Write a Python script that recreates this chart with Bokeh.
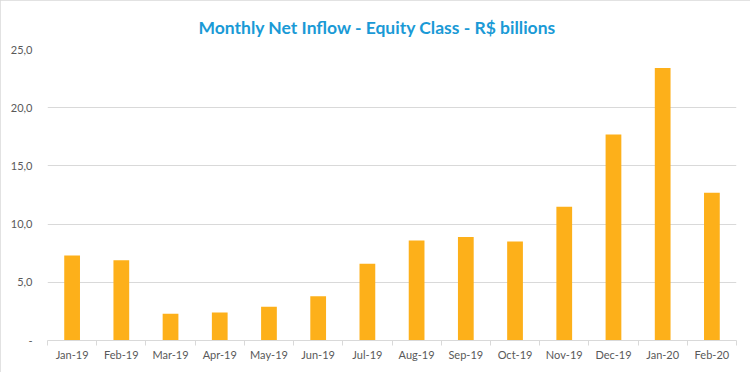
from bokeh.plotting import figure
from bokeh.models import ColumnDataSource, FixedTicker, Range1d
from bokeh.embed import file_html
from bokeh.resources import INLINE

months = ["Jan-19", "Feb-19", "Mar-19", "Apr-19", "May-19", "Jun-19", "Jul-19",
          "Aug-19", "Sep-19", "Oct-19", "Nov-19", "Dec-19", "Jan-20", "Feb-20"]
inflow = [7.3, 6.9, 2.3, 2.4, 2.9, 3.8, 6.6, 8.6, 8.9, 8.5, 11.5, 17.7, 23.4, 12.7]
y_ticks = [0, 5, 10, 15, 20, 25]
y_tick_labels = ["-", "5,0", "10,0", "15,0", "20,0", "25,0"]
title_text = "Monthly Net Inflow  - Equity Class - R$ billions"

n = len(months)
centers = [i + 0.5 for i in range(n)]
src = ColumnDataSource(dict(x=centers, top=inflow, m=months))

p = figure(width=750, height=372, output_backend="svg", toolbar_location=None,
           x_range=Range1d(0, n), y_range=Range1d(0, y_ticks[-1]),
           min_border_left=47, min_border_right=14, min_border_top=49, min_border_bottom=32)

p.title.text = title_text
p.title.align = "left"
p.title.offset = 151
p.title.text_font = "Lato"
p.title.text_font_size = "17.5px"
p.title.text_font_style = "bold"
p.title.text_color = "#1A9AD6"
p.title.standoff = 23

p.styles = {"outline": "1px solid #D9D9D9", "outline-offset": "-1px"}

p.vbar(x="x", top="top", width=0.32, source=src, color="#FDB01A", line_color=None)

p.outline_line_color = None
p.background_fill_color = "white"
p.border_fill_color = "white"

p.xgrid.grid_line_color = None
p.ygrid.grid_line_color = "#D9D9D9"
p.ygrid.grid_line_width = 1

p.yaxis.ticker = FixedTicker(ticks=y_ticks)
p.yaxis.major_label_overrides = {t: l for t, l in zip(y_ticks, y_tick_labels)}
p.yaxis.axis_line_color = None
p.yaxis.major_tick_line_color = None
p.yaxis.minor_tick_line_color = None
p.yaxis.major_tick_out = 0
p.yaxis.major_label_standoff = 15
p.yaxis.major_label_text_font = "Lato"
p.yaxis.major_label_text_font_size = "11px"
p.yaxis.major_label_text_color = "#595959"

p.xaxis.ticker = FixedTicker(ticks=centers, minor_ticks=list(range(n + 1)))
p.xaxis.major_label_overrides = {c: m for c, m in zip(centers, months)}
p.xaxis.axis_line_color = "#D9D9D9"
p.xaxis.major_tick_line_color = None
p.xaxis.major_tick_out = 0
p.xaxis.major_tick_in = 0
p.xaxis.minor_tick_line_color = "#D9D9D9"
p.xaxis.minor_tick_out = 5
p.xaxis.minor_tick_in = 0
p.xaxis.major_label_standoff = 2
p.xaxis.major_label_text_font = "Lato"
p.xaxis.major_label_text_font_size = "11px"
p.xaxis.major_label_text_color = "#595959"

open("out.html", "w").write(file_html(p, INLINE))
